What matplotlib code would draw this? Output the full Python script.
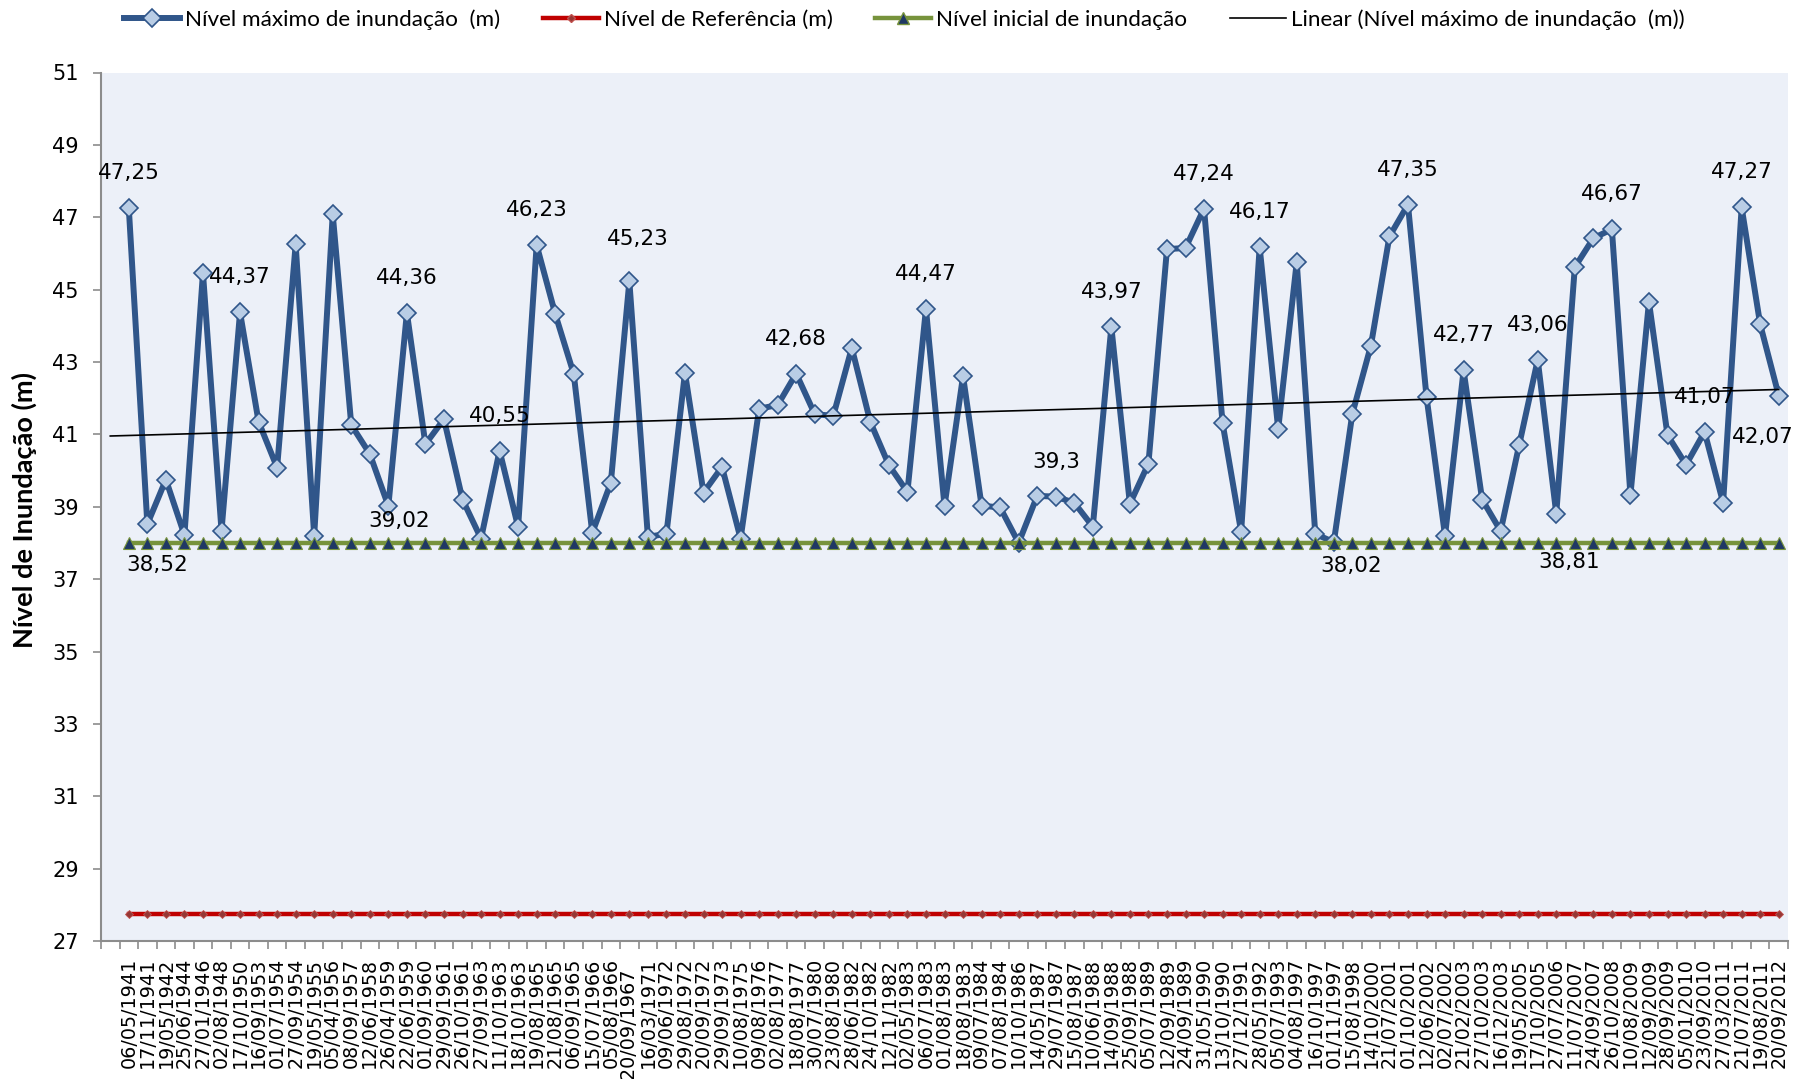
import numpy as np
import matplotlib
matplotlib.use("Agg")
import matplotlib.pyplot as plt
from matplotlib.lines import Line2D

# ---------------- data ----------------
dates = [
    "06/05/1941", "17/11/1941", "19/05/1942", "25/06/1944", "27/01/1946", "02/08/1948",
    "17/10/1950", "16/09/1953", "01/07/1954", "27/09/1954", "19/05/1955", "05/04/1956",
    "08/09/1957", "12/06/1958", "26/04/1959", "22/06/1959", "01/09/1960", "29/09/1961",
    "26/10/1961", "27/09/1963", "11/10/1963", "18/10/1963", "19/08/1965", "21/08/1965",
    "06/09/1965", "15/07/1966", "05/08/1966", "20/09/1967  ", "16/03/1971", "09/06/1972",
    "29/08/1972", "20/09/1972", "29/09/1973", "10/08/1975", "09/08/1976", "02/08/1977",
    "18/08/1977", "30/07/1980", "23/08/1980", "28/06/1982", "24/10/1982", "12/11/1982",
    "02/05/1983", "06/07/1983", "01/08/1983", "18/08/1983", "09/07/1984", "07/08/1984",
    "10/10/1986", "14/05/1987", "29/07/1987", "15/08/1987", "10/06/1988", "14/09/1988",
    "25/09/1988", "05/07/1989", "12/09/1989", "24/09/1989", "31/05/1990", "13/10/1990",
    "27/12/1991", "28/05/1992", "05/07/1993", "04/08/1997", "16/10/1997", "01/11/1997",
    "15/08/1998", "14/10/2000", "21/07/2001", "01/10/2001", "12/06/2002", "02/07/2002",
    "21/02/2003", "27/10/2003", "16/12/2003", "19/05/2005", "17/10/2005", "27/07/2006",
    "11/07/2007", "24/09/2007", "26/10/2008", "10/08/2009", "12/09/2009", "28/09/2009",
    "05/01/2010", "23/09/2010", "27/03/2011", "21/07/2011", "19/08/2011", "20/09/2012",
]

nivel_maximo = [
    47.25, 38.52, 39.75, 38.22, 45.46, 38.34, 44.37, 41.35, 40.08, 46.25,
    38.20, 47.08, 41.26, 40.46, 39.02, 44.36, 40.73, 41.42, 39.20, 38.12,
    40.55, 38.44, 46.23, 44.33, 42.67, 38.28, 39.66, 45.23, 38.17, 38.25,
    42.70, 39.39, 40.10, 38.12, 41.71, 41.81, 42.68, 41.56, 41.51, 43.39,
    41.34, 40.15, 39.41, 44.47, 39.02, 42.61, 39.03, 38.98, 38.00, 39.30,
    39.28, 39.11, 38.45, 43.97, 39.08, 40.19, 46.12, 46.15, 47.24, 41.31,
    38.31, 46.17, 41.15, 45.76, 38.25, 38.02, 41.57, 43.45, 46.47, 47.35,
    42.04, 38.20, 42.77, 39.20, 38.33, 40.71, 43.06, 38.81, 45.62, 46.42,
    46.67, 39.33, 44.66, 40.98, 40.16, 41.07, 39.11, 47.27, 44.04, 42.07,
]

nivel_referencia = [27.75] * len(dates)
nivel_inicial = [38.0] * len(dates)

# indices (1-based) of points carrying a data label
labeled_points = [1, 2, 7, 15, 16, 21, 23, 28, 37, 44, 50, 54, 59, 62, 66,
                  70, 73, 77, 78, 81, 86, 88, 90]

yticks = list(range(27, 52, 2))

# ---------------- style ----------------
label_offsets = {2: (10, -41), 15: (11, -15), 28: (8, 42), 50: (19, 34),
                 66: (17, -24), 78: (13, -48), 90: (-16, -41)}
default_offset = (0, 35)

BLUE = "#30568A"
BLUE_FILL = "#B9CDE5"
GREEN = "#77933C"
NAVY = "#1F3864"
RED = "#C00000"
DARK_RED = "#953735"
BG = "#ECF0F8"
AXIS = "#8C8C8C"

W, H = 1794, 1079
fig = plt.figure(figsize=(W / 100, H / 100), dpi=100)
L, R, T, B = 101, 1788, 72.5, 941
ax = fig.add_axes([L / W, 1 - B / H, (R - L) / W, (B - T) / H])
ax.set_facecolor(BG)

n = len(dates)
x = np.arange(1, n + 1)

ax.plot(x, nivel_maximo, color=BLUE, lw=4.3, marker="D", ms=9,
        mfc=BLUE_FILL, mec=BLUE, mew=1.2, zorder=3, solid_joinstyle="round")
ax.plot(x, nivel_referencia, color=RED, lw=3.2, marker="D", ms=4.5,
        mfc=DARK_RED, mec="#C0504D", mew=0.6, zorder=3)
ax.plot(x, nivel_inicial, color=GREEN, lw=3.2, marker="^", ms=9,
        mfc=NAVY, mec=GREEN, mew=0.8, zorder=4)

# linear trend (least-squares) over the category positions
coef = np.polyfit(x, nivel_maximo, 1)
xt = np.array([0, n])
ax.plot(xt, np.polyval(coef, xt), color="black", lw=1.2, zorder=5)

for i in labeled_points:
    v = nivel_maximo[i - 1]
    dx, dy = label_offsets.get(i, default_offset)
    txt = f"{v:g}".replace(".", ",")
    ax.annotate(txt, (i, v), xytext=(dx, dy), textcoords="offset pixels",
                ha="center", va="center", fontsize=15.5, family="DejaVu Sans",
                color="black", zorder=6)

ax.set_xlim(-0.5, n + 0.5)
ax.set_ylim(27, 51)
ax.set_yticks(yticks)
ax.set_yticklabels([str(v) for v in yticks], fontsize=15, family="DejaVu Sans")

cats = [""] + dates
ax.set_xticks(np.arange(0, n + 1))
ax.set_xticklabels(cats, rotation=90, fontsize=13.8, family="DejaVu Sans", va="top")
ax.set_xticks(np.arange(-0.5, n + 1, 1), minor=True)
ax.tick_params(axis="x", which="major", length=0, pad=12)
ax.tick_params(axis="x", which="minor", length=6, color=AXIS, width=1.2)
ax.tick_params(axis="y", length=6, color=AXIS, width=1.2, pad=10)

for s in ["top", "right"]:
    ax.spines[s].set_visible(False)
for s in ["left", "bottom"]:
    ax.spines[s].set_color(AXIS)
    ax.spines[s].set_linewidth(1.5)

fig.text(24 / W, 1 - 510 / H, "Nível de Inundação (m)", rotation=90,
         ha="center", va="center", fontsize=19.5, fontweight="bold", family="Lato")

handles = [
    Line2D([], [], color=BLUE, lw=4.3, marker="D", ms=9, mfc=BLUE_FILL, mec=BLUE, mew=1.2),
    Line2D([], [], color=RED, lw=3.2, marker="D", ms=4.5, mfc=DARK_RED, mec="#C0504D"),
    Line2D([], [], color=GREEN, lw=3.2, marker="^", ms=9, mfc=NAVY, mec=GREEN),
    Line2D([], [], color="black", lw=1.2),
]
labels = ["Nível máximo de inundação  (m)", "Nível de Referência (m)",
          "Nível inicial de inundação", "Linear (Nível máximo de inundação  (m))"]
fig.legend(handles, labels, loc="center", bbox_to_anchor=(0.504, 1 - 20 / H), ncol=4,
           frameon=False, prop={"family": "Lato", "size": 16.2},
           handlelength=2.5, handletextpad=0.2, columnspacing=1.9)

fig.savefig("out.png", dpi=100, facecolor="white")
